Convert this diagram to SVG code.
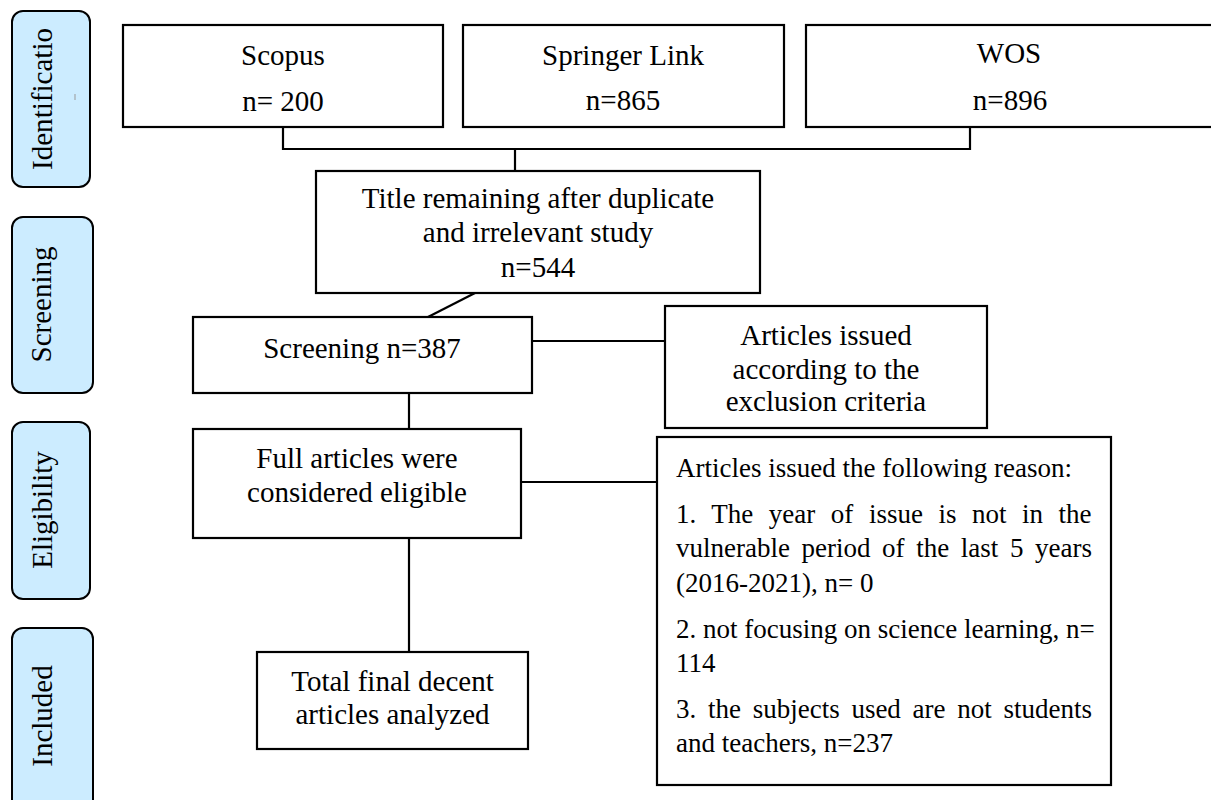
<svg xmlns="http://www.w3.org/2000/svg" width="1211" height="800" viewBox="0 0 1211 800">
<style>
.box{fill:#fff;stroke:#000;stroke-width:2.2}
.stage{fill:#CCECFF;stroke:#000;stroke-width:2}
.t{font-family:"Liberation Serif","Times New Roman",serif;font-size:29px;fill:#000}
.tm{text-anchor:middle}
.s{font-size:27px}
.c{fill:none;stroke:#000;stroke-width:2.2}
</style>
<rect width="1211" height="800" fill="#fff"/>
<g id="stage-identification">
<rect class="stage" x="12" y="11" width="78" height="176" rx="11"/>
<text class="t tm" transform="translate(52,99) rotate(-90)" textLength="142" lengthAdjust="spacingAndGlyphs">Identificatio</text>
<line x1="75" y1="94" x2="75" y2="100" stroke="#999" stroke-width="1"/>
</g>
<g id="stage-screening">
<rect class="stage" x="12" y="217" width="81" height="176" rx="11"/>
<text class="t tm" transform="translate(51,304.5) rotate(-90)">Screening</text>
</g>
<g id="stage-eligibility">
<rect class="stage" x="12" y="422" width="78" height="177" rx="11"/>
<text class="t tm" transform="translate(52,510) rotate(-90)">Eligibility</text>
</g>
<g id="stage-included">
<rect class="stage" x="12" y="628" width="81" height="190" rx="11"/>
<text class="t tm" transform="translate(52,716) rotate(-90)">Included</text>
</g>
<g id="connectors">
<polyline class="c" points="283,127 283,149 970,149 970,127"/>
<line class="c" x1="515" y1="149" x2="515" y2="171"/>
<line class="c" x1="475" y1="293" x2="428" y2="317"/>
<line class="c" x1="532" y1="341" x2="665" y2="341"/>
<line class="c" x1="409" y1="393" x2="409" y2="429"/>
<line class="c" x1="521" y1="482" x2="657" y2="482"/>
<line class="c" x1="409" y1="538" x2="409" y2="652"/>
</g>
<g id="scopus">
<rect class="box" x="123" y="25" width="320" height="102"/>
<text class="t tm" x="283" y="65">Scopus</text>
<text class="t tm" x="283" y="111">n= 200</text>
</g>
<g id="springer">
<rect class="box" x="463" y="25" width="321" height="102"/>
<text class="t tm" x="623" y="65">Springer Link</text>
<text class="t tm" x="623" y="110">n=865</text>
</g>
<g id="wos">
<rect class="box" x="806" y="25" width="410" height="102"/>
<text class="t tm" x="1009" y="63">WOS</text>
<text class="t tm" x="1010" y="110">n=896</text>
</g>
<g id="title-remaining">
<rect class="box" x="316" y="171" width="444" height="122"/>
<text class="t tm" x="538" y="208">Title remaining after duplicate</text>
<text class="t tm" x="538" y="242">and irrelevant study</text>
<text class="t tm" x="538" y="277">n=544</text>
</g>
<g id="screening">
<rect class="box" x="193" y="317" width="339" height="76"/>
<text class="t tm" x="362" y="358">Screening n=387</text>
</g>
<g id="excluded-criteria">
<rect class="box" x="665" y="306" width="322" height="122"/>
<text class="t tm" x="826" y="345">Articles issued</text>
<text class="t tm" x="826" y="379">according to the</text>
<text class="t tm" x="826" y="411">exclusion criteria</text>
</g>
<g id="full-articles">
<rect class="box" x="193" y="429" width="328" height="109"/>
<text class="t tm" x="357" y="468">Full articles were</text>
<text class="t tm" x="357" y="502">considered eligible</text>
</g>
<g id="reasons">
<rect class="box" x="657" y="437" width="454" height="348"/>
<text class="t s" x="676" y="477">Articles issued the following reason:</text>
<text class="t s" x="676" y="523" style="word-spacing:8.8px">1. The year of issue is not in the</text>
<text class="t s" x="676" y="557" style="word-spacing:4.85px">vulnerable period of the last 5 years</text>
<text class="t s" x="676" y="592">(2016-2021), n= 0</text>
<text class="t s" x="676" y="638">2. not focusing on science learning, n=</text>
<text class="t s" x="676" y="672">114</text>
<text class="t s" x="676" y="718" style="word-spacing:4.97px">3. the subjects used are not students</text>
<text class="t s" x="676" y="752">and teachers, n=237</text>
</g>
<g id="total">
<rect class="box" x="257" y="652" width="271" height="97"/>
<text class="t tm" x="392.5" y="691">Total final decent</text>
<text class="t tm" x="392.5" y="724">articles analyzed</text>
</g>
</svg>
